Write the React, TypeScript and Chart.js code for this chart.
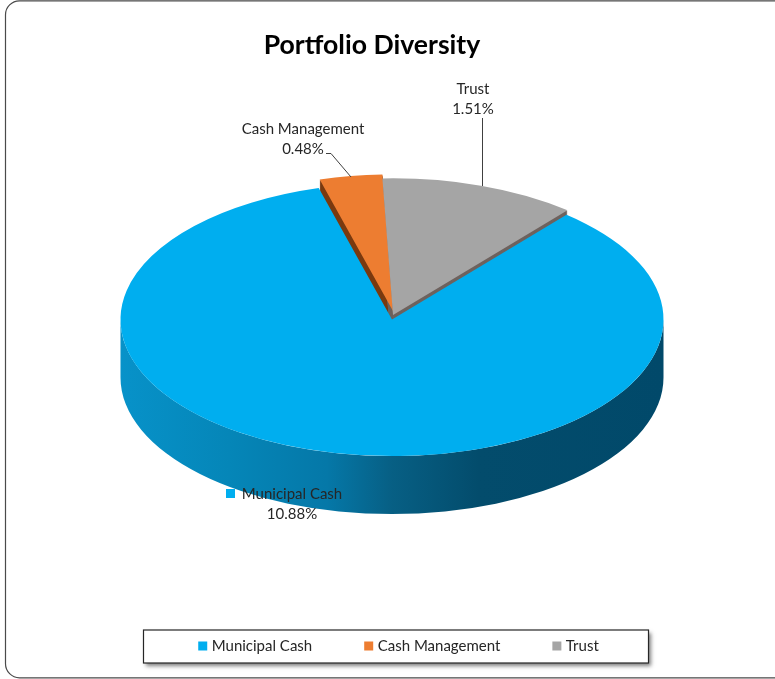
import React, { useEffect, useRef } from "react";
import { Chart, registerables } from "chart.js";

Chart.register(...registerables);

const categories = ["Municipal Cash", "Cash Management", "Trust"];
const values = [10.88, 0.48, 1.51];
const titleText = "Portfolio Diversity";
const fillColors = ["#00AEEF", "#ED7D31", "#A5A5A5"];
const wedgeWallColors = [null, "#7A3A10", "#6E625E"];
const explodeX = [0, 1, 1];
const explodeY = [0, -17, -9];

const FONT = "Lato, 'Open Sans', sans-serif";
const TILT = 0.503;
const DEPTH = 58;
const TEXT = "#262626";

const framePlugin = {
  id: "frame",
  beforeDraw(chart: any) {
    const ctx = chart.ctx;
    ctx.save();
    ctx.strokeStyle = "#4A4A4A";
    ctx.lineWidth = 1.2;
    ctx.beginPath();
    ctx.roundRect(5.5, 0.8, 800, 677, 14);
    ctx.stroke();
    ctx.shadowColor = "rgba(0,0,0,0.5)";
    ctx.shadowBlur = 4;
    ctx.shadowOffsetX = 2;
    ctx.shadowOffsetY = 3;
    ctx.fillStyle = "#FFFFFF";
    ctx.fillRect(143.5, 630, 505, 33);
    ctx.shadowColor = "transparent";
    ctx.strokeStyle = "#262626";
    ctx.lineWidth = 1.2;
    ctx.strokeRect(143.5, 630, 505, 33);
    ctx.restore();
  },
};

const nudgePlugin = {
  id: "nudge",
  afterLayout(chart: any) {
    const t = chart.titleBlock;
    t.left -= 20;
    t.right -= 20;
    const l = chart.legend;
    const h = l.bottom - l.top;
    l.left += 8;
    l.right += 8;
    l.top = 646 - 7.5 - l.options.labels.padding;
    l.bottom = l.top + h;
  },
};

const pie3dPlugin = {
  id: "pie3d",
  afterDatasetsUpdate(chart: any) {
    const arcs = chart.getDatasetMeta(0).data;
    arcs.forEach((arc: any, i: number) => {
      arc.x += explodeX[i];
      arc.y += explodeY[i];
    });
  },
  beforeDatasetsDraw(chart: any) {
    const ctx = chart.ctx;
    const arcs = chart.getDatasetMeta(0).data;
    const { x: cx, y: cy, outerRadius: r } = arcs[0];
    // walls of the exploded wedges, behind everything
    arcs.forEach((arc: any, i: number) => {
      const color = wedgeWallColors[i];
      if (!color) return;
      ctx.save();
      ctx.fillStyle = color;
      for (let d = DEPTH; d >= 1; d -= 1) {
        ctx.save();
        ctx.translate(arc.x, cy + (arc.y - cy) * TILT + d);
        ctx.scale(1, TILT);
        ctx.beginPath();
        ctx.moveTo(0, 0);
        ctx.arc(0, 0, r, arc.startAngle, arc.endAngle);
        ctx.closePath();
        ctx.fill();
        ctx.restore();
      }
      ctx.restore();
    });
    // side wall of the main slice
    const g = ctx.createLinearGradient(cx - r, 0, cx + r, 0);
    g.addColorStop(0, "#0792C9");
    g.addColorStop(0.2, "#0586B8");
    g.addColorStop(0.38, "#0578A8");
    g.addColorStop(0.5, "#075F84");
    g.addColorStop(0.66, "#034C6C");
    g.addColorStop(1, "#01496A");
    ctx.save();
    ctx.fillStyle = g;
    ctx.beginPath();
    ctx.ellipse(cx, cy, r, r * TILT, 0, 0, Math.PI);
    ctx.ellipse(cx, cy + DEPTH, r, r * TILT, 0, Math.PI, 0, true);
    ctx.closePath();
    ctx.fill();
    ctx.restore();
  },
  beforeDatasetDraw(chart: any) {
    const ctx = chart.ctx;
    const { x: cx, y: cy } = chart.getDatasetMeta(0).data[0];
    ctx.save();
    ctx.translate(cx, cy);
    ctx.scale(1, TILT);
    ctx.translate(-cx, -cy);
  },
  afterDatasetDraw(chart: any) {
    chart.ctx.restore();
  },
  afterDraw(chart: any) {
    const ctx = chart.ctx;
    const pct = values.map((v) => v.toFixed(2) + "%");
    ctx.save();
    // leader lines
    ctx.strokeStyle = "#404040";
    ctx.lineWidth = 1;
    ctx.beginPath();
    ctx.moveTo(326, 153.5);
    ctx.lineTo(331, 153.5);
    ctx.lineTo(351, 177);
    ctx.moveTo(482.5, 118);
    ctx.lineTo(482.5, 186);
    ctx.stroke();
    // labels
    ctx.fillStyle = TEXT;
    ctx.font = `15px ${FONT}`;
    ctx.textAlign = "center";
    ctx.textBaseline = "middle";
    ctx.fillText(categories[2], 473, 89);
    ctx.fillText(pct[2], 473, 109);
    ctx.fillText(categories[1], 303, 129);
    ctx.fillText(pct[1], 303, 149);
    ctx.fillText(categories[0], 292, 494);
    ctx.fillText(pct[0], 292, 514);
    ctx.fillStyle = fillColors[0];
    ctx.fillRect(226, 489, 9, 9);
    ctx.restore();
  },
};

export default function App() {
  const ref = useRef<HTMLCanvasElement | null>(null);
  useEffect(() => {
    const chart = new Chart(ref.current as HTMLCanvasElement, {
      type: "pie",
      data: {
        labels: categories,
        datasets: [
          {
            data: values,
            backgroundColor: fillColors,
            borderWidth: 0,
            clip: false,
          } as any,
        ],
      },
      options: {
        animation: false,
        responsive: false,
        rotation: 40,
        radius: 271.5,
        layout: { padding: { left: 9, right: 0, top: 0, bottom: 21 } },
        plugins: {
          tooltip: { enabled: false },
          title: {
            display: true,
            text: titleText,
            color: "#000000",
            font: { family: FONT, size: 26.6, weight: "bold" },
            padding: { top: 29, bottom: 0 },
          },
          legend: {
            display: true,
            position: "bottom",
            labels: {
              usePointStyle: true,
              pointStyle: "rect",
              boxWidth: 3,
              boxHeight: 9,
              padding: 55,
              color: TEXT,
              font: { family: FONT, size: 15 },
            },
          },
        },
      } as any,
      plugins: [framePlugin, nudgePlugin, pie3dPlugin],
    });
    return () => chart.destroy();
  }, []);
  return (
    <div style={{ position: "absolute", left: 0, top: 0, width: 775, height: 679, overflow: "hidden", background: "#fff" }}>
      <canvas ref={ref} width={775} height={679} style={{ display: "block" }} />
    </div>
  );
}
